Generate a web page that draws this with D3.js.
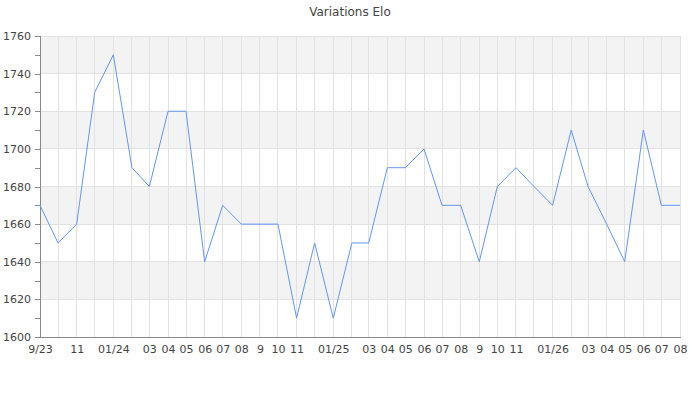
<!DOCTYPE html>
<html><head><meta charset="utf-8">
<script src="https://cdn.jsdelivr.net/npm/d3@7"></script>
<style>body{margin:0;background:#fff;} text{font-family:"DejaVu Sans",sans-serif;}</style>
</head><body>
<svg id="c" width="700" height="400"></svg>
<script>
const months = ["2023-09","2023-10","2023-11","2023-12","2024-01","2024-02","2024-03","2024-04","2024-05","2024-06","2024-07","2024-08",
"2024-09","2024-10","2024-11","2024-12","2025-01","2025-02","2025-03","2025-04","2025-05","2025-06","2025-07","2025-08",
"2025-09","2025-10","2025-11","2025-12","2026-01","2026-02","2026-03","2026-04","2026-05","2026-06","2026-07","2026-08"];
const elo = [1670,1650,1660,1730,1750,1690,1680,1720,1720,1640,1670,1660,
1660,1660,1610,1650,1610,1650,1650,1690,1690,1700,1670,1670,
1640,1680,1690,1680,1670,1710,1680,1660,1640,1710,1670,1670];
const tickLabels = ["9/23","","11","","01/24","","03","04","05","06","07","08",
"9","10","11","","01/25","","03","04","05","06","07","08",
"9","10","11","","01/26","","03","04","05","06","07","08"];
const yTicks = [1600,1620,1640,1660,1680,1700,1720,1740,1760];
const yMinor = [1610,1630,1650,1670,1690,1710,1730,1750];
const title = "Variations Elo";

const parse = d3.timeParse("%Y-%m");
const dates = months.map(parse);
const L=40, R=680, T=36, B=337;
const svg = d3.select("#c");
const x = d3.scaleTime().domain(d3.extent(dates)).range([L,R]);
const y = d3.scaleLinear().domain([1600,1760]).range([B,T]);

// bands
for (let i=0;i<yTicks.length-1;i++){
  if (i%2===1) svg.append("rect").attr("x",L).attr("width",R-L)
    .attr("y",y(yTicks[i+1])).attr("height",y(yTicks[i])-y(yTicks[i+1])).attr("fill","#f3f3f3");
}
// grid
svg.append("g").selectAll("line").data(dates).join("line")
  .attr("x1",d=>x(d)).attr("x2",d=>x(d)).attr("y1",T).attr("y2",B)
  .attr("stroke","#e2e2e2").attr("shape-rendering","crispEdges");
svg.append("g").selectAll("line").data(yTicks).join("line")
  .attr("x1",L).attr("x2",R).attr("y1",d=>y(d)).attr("y2",d=>y(d))
  .attr("stroke","#e2e2e2").attr("shape-rendering","crispEdges");

// y axis
const ya = svg.append("g").attr("transform",`translate(${L},0)`)
  .call(d3.axisLeft(y).tickValues(yTicks).tickSize(5).tickPadding(4).tickFormat(d3.format("d")));
const yb = svg.append("g").attr("transform",`translate(${L},0)`)
  .call(d3.axisLeft(y).tickValues(yMinor).tickSize(5).tickFormat(""));
yb.select(".domain").remove();
// x axis
const xa = svg.append("g").attr("transform",`translate(0,${B})`)
  .call(d3.axisBottom(x).tickValues(dates).tickSize(0).tickPadding(8).tickFormat((d,i)=>tickLabels[i]));
[ya,yb,xa].forEach(g=>{
  g.selectAll("path,line").attr("stroke","#888").attr("shape-rendering","crispEdges");
  g.selectAll("text").attr("fill","#444").attr("font-size",11).attr("font-family","DejaVu Sans");
});

// line
svg.append("path").datum(elo)
  .attr("d", d3.line().x((d,i)=>x(dates[i])).y(d=>y(d)))
  .attr("fill","none").attr("stroke","#6495ed").attr("stroke-width",1);

svg.append("text").attr("x",350).attr("y",16).attr("text-anchor","middle")
  .attr("font-size",12).attr("fill","#444").text(title);
</script>
</body></html>
